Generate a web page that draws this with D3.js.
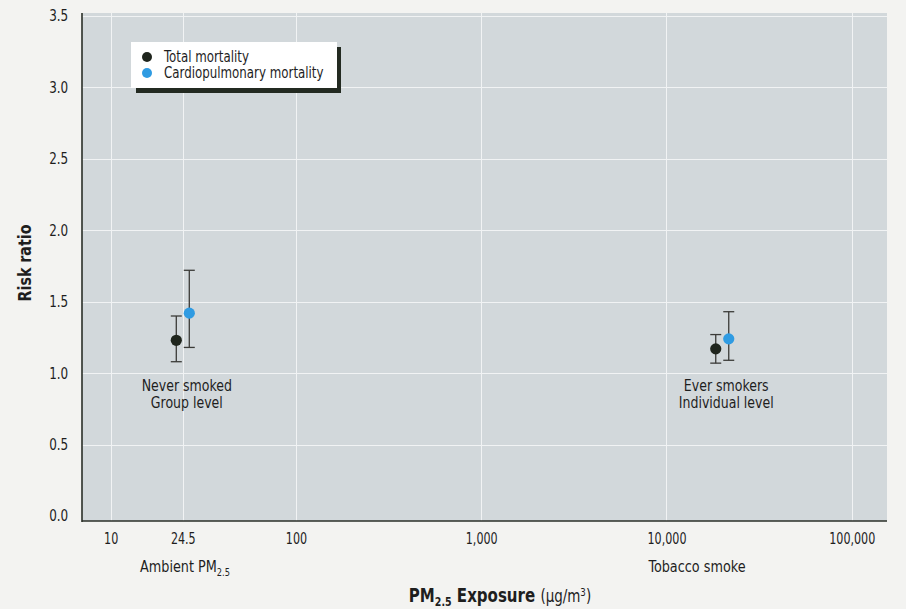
<!DOCTYPE html>
<html>
<head>
<meta charset="utf-8">
<script src="https://cdn.jsdelivr.net/npm/d3@7/dist/d3.min.js"></script>
<style>
  html, body { margin: 0; padding: 0; background: #f3f3f1; }
  svg { display: block; }
  text { font-family: "DejaVu Sans Condensed", "Liberation Sans Narrow", "Arial Narrow", sans-serif; fill: #1e1e1e; }
</style>
</head>
<body>
<svg id="chart" width="906" height="609"></svg>
<script>
// Exposure axis (log scale) ticks and labels
const xTickValues = [10, 24.5, 100, 1000, 10000, 100000];
const xTickLabels = ["10", "24.5", "100", "1,000", "10,000", "100,000"];
const yTickValues = [0, 0.5, 1.0, 1.5, 2.0, 2.5, 3.0, 3.5];

// Study groups and their PM2.5 exposure
const groupLines = [["Never smoked", "Group level"], ["Ever smokers", "Individual level"]];
const groupExposure = [24.5, 20000];

// Risk ratios with confidence limits, per series
const seriesNames = ["Total mortality", "Cardiopulmonary mortality"];
const totalRR = [1.23, 1.17];
const totalLo = [1.08, 1.07];
const totalHi = [1.40, 1.27];
const cardioRR = [1.42, 1.24];
const cardioLo = [1.18, 1.09];
const cardioHi = [1.72, 1.43];

const seriesColors = ["#1f251d", "#2f9be2"];
const seriesOffset = [-6.5, 6.5];

const svg = d3.select("#chart");

const plotLeft = 82, plotRight = 887, plotTop = 13, plotBottom = 521;
const x = d3.scaleLog().domain([7, 155000]).range([plotLeft, plotRight]);
const y = d3.scaleLinear().domain([0, 3.5]).range([516, 16]);

// condensed text: a group placed at (px, py) and squeezed horizontally
function condensedText(px, py, sx, extra = "") {
  return svg.append("g").attr("transform", `translate(${px},${py}) ${extra} scale(${sx},1)`).append("text");
}

// plot background
svg.append("rect")
  .attr("x", plotLeft).attr("y", plotTop)
  .attr("width", plotRight - plotLeft).attr("height", plotBottom - plotTop)
  .attr("fill", "#d2d8db");

// grid
const grid = svg.append("g").attr("stroke", "#f1f3f4").attr("stroke-width", 1);
grid.selectAll("line.h").data(yTickValues.filter(v => v > 0)).join("line")
  .attr("x1", plotLeft).attr("x2", plotRight)
  .attr("y1", d => Math.round(y(d)) + 0.5).attr("y2", d => Math.round(y(d)) + 0.5);
grid.selectAll("line.v").data(xTickValues).join("line")
  .attr("y1", plotTop).attr("y2", plotBottom)
  .attr("x1", d => Math.round(x(d)) + 0.5).attr("x2", d => Math.round(x(d)) + 0.5);

// axes lines
svg.append("line").attr("x1", plotLeft).attr("x2", plotLeft).attr("y1", plotTop).attr("y2", plotBottom + 1)
  .attr("stroke", "#2a2f28").attr("stroke-width", 1.6);
svg.append("line").attr("x1", plotLeft).attr("x2", plotRight).attr("y1", plotBottom).attr("y2", plotBottom)
  .attr("stroke", "#2a2f28").attr("stroke-width", 1.6);

// y axis
const yAxis = d3.axisLeft(y).tickValues(yTickValues).tickFormat(d3.format(".1f")).tickSize(0).tickPadding(16);
const gy = svg.append("g").attr("transform", `translate(${plotLeft},0)`).call(yAxis);
gy.select(".domain").remove();
gy.selectAll("text").attr("font-size", 15.5).attr("fill", "#1e1e1e")
  .attr("transform", "scale(0.86,1)")
  .style("font-family", '"DejaVu Sans Condensed", sans-serif');

// x axis
const xAxis = d3.axisBottom(x).tickValues(xTickValues)
  .tickFormat((d, i) => xTickLabels[i]).tickSize(0).tickPadding(12);
const gx = svg.append("g").attr("transform", `translate(0,${plotBottom})`).call(xAxis);
gx.select(".domain").remove();
gx.selectAll("text").attr("font-size", 15.5).attr("fill", "#1e1e1e")
  .attr("transform", "scale(0.8,1)")
  .style("font-family", '"DejaVu Sans Condensed", sans-serif');

// error bars and points
const seriesData = [
  { rr: totalRR, lo: totalLo, hi: totalHi },
  { rr: cardioRR, lo: cardioLo, hi: cardioHi }
];
seriesData.forEach((s, si) => {
  const g = svg.append("g");
  groupExposure.forEach((ex, gi) => {
    const cx = x(ex) + seriesOffset[si];
    g.append("line").attr("x1", cx).attr("x2", cx)
      .attr("y1", y(s.lo[gi])).attr("y2", y(s.hi[gi]))
      .attr("stroke", "#3b3b38").attr("stroke-width", 1.3);
    [s.lo[gi], s.hi[gi]].forEach(v => {
      g.append("line").attr("x1", cx - 5.5).attr("x2", cx + 5.5)
        .attr("y1", y(v)).attr("y2", y(v))
        .attr("stroke", "#3b3b38").attr("stroke-width", 1.3);
    });
    g.append("circle").attr("cx", cx).attr("cy", y(s.rr[gi])).attr("r", 5.6)
      .attr("fill", seriesColors[si]);
  });
});

// group labels
groupLines.forEach((lines, gi) => {
  lines.forEach((ln, li) => {
    condensedText(x(groupExposure[gi]) + 4, 391 + li * 16.5, 0.9)
      .attr("text-anchor", "middle").attr("font-size", 15.5).text(ln);
  });
});

// legend with drop shadow
svg.append("rect").attr("x", 136).attr("y", 47).attr("width", 205).attr("height", 46).attr("fill", "#232a21");
svg.append("rect").attr("x", 131).attr("y", 42).attr("width", 206).attr("height", 46).attr("fill", "#ffffff");
seriesNames.forEach((name, i) => {
  svg.append("circle").attr("cx", 147).attr("cy", 57 + i * 16).attr("r", 5).attr("fill", seriesColors[i]);
  condensedText(164, 62 + i * 16, 0.85).attr("font-size", 15.5).text(name);
});

// y axis title
condensedText(31, 263, 0.88, "rotate(-90)")
  .attr("text-anchor", "middle").attr("font-size", 18).attr("font-weight", "bold").text("Risk ratio");

// exposure source labels
const amb = condensedText(185, 572, 0.92).attr("text-anchor", "middle").attr("font-size", 15.5);
amb.append("tspan").text("Ambient PM");
amb.append("tspan").attr("font-size", 10).attr("dy", 4).text("2.5");
condensedText(697, 572, 0.92).attr("text-anchor", "middle").attr("font-size", 15.5).text("Tobacco smoke");

// x axis title
const xt = condensedText(500, 602, 0.88).attr("text-anchor", "middle").attr("font-size", 19);
xt.append("tspan").attr("font-weight", "bold").text("PM");
xt.append("tspan").attr("font-weight", "bold").attr("font-size", 12).attr("dy", 4).text("2.5");
xt.append("tspan").attr("font-weight", "bold").attr("dy", -4).text(" Exposure ");
xt.append("tspan").attr("font-size", 17).text("(µg/m");
xt.append("tspan").attr("font-size", 11).attr("dy", -6).text("3");
xt.append("tspan").attr("font-size", 17).attr("dy", 6).text(")");
</script>
</body>
</html>
